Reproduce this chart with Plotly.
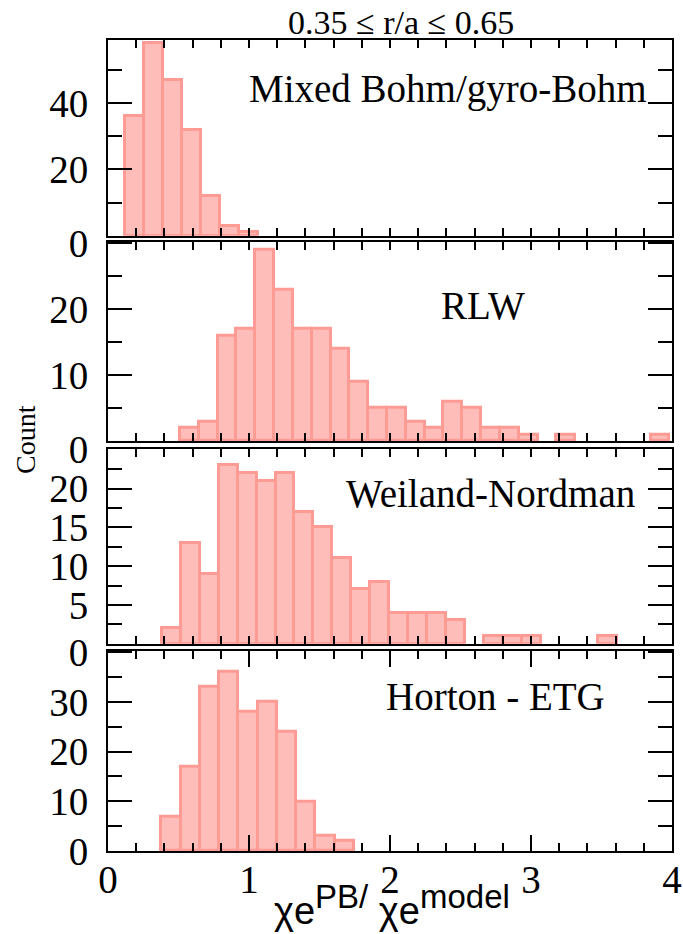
import plotly.graph_objects as go
from plotly.subplots import make_subplots

# ---------------- data ----------------
panel_names = ["Mixed Bohm/gyro-Bohm", "RLW", "Weiland-Nordman", "Horton - ETG"]

counts_bohm = [36, 58, 47, 32, 12, 3, 1]
counts_rlw = [2, 3, 16, 17, 29, 23, 17, 17, 14, 9, 5, 5, 3, 2, 6, 5, 2, 2, 1, 0, 1, 0, 0, 0, 0, 1]
counts_weiland = [2, 13, 9, 23, 22, 21, 22, 17, 15, 11, 7, 8, 4, 4, 4, 3, 0, 1, 1, 1, 0, 0, 0, 1]
counts_horton = [7, 17, 33, 36, 28, 30, 24, 10, 3, 2]

bin_starts = [0.117, 0.51, 0.381, 0.379]
bin_widths = [0.135, 0.1335, 0.1345, 0.1364]

y_max = [59, 30.2, 25.1, 40.3]
y_tickvals = [[0, 20, 40], [0, 10, 20, 30], [0, 5, 10, 15, 20, 25], [0, 10, 20, 30, 40]]
y_ticktext = [["", "20", "40"], ["", "10", "20", "0"], ["", "5", "10", "15", "20", "0"],
              ["0", "10", "20", "30", "0"]]
y_minor = [10, 5, 2.5, 5]

x_tickvals = [0, 1, 2, 3, 4]
x_ticktext = ["0", "1", "2", "3", "4"]

title_text = "0.35 ≤ r/a ≤ 0.65"
y_title = "Count"
x_title = ("χe<sup><span style='font-size:33px'>PB/</span></sup> "
           "χe<sup><span style='font-size:33px'>model</span></sup>")

all_counts = [counts_bohm, counts_rlw, counts_weiland, counts_horton]

# ---------------- figure ----------------
W, H = 683, 934
L, R, T, B = 108, 11, 40, 83
PW, PH = W - L - R, H - T - B
bottom_px = H - B

def xp(px):
    return (px - L) / PW

def yp(py):
    return (bottom_px - py) / PH

# panel pixel extents (top, bottom)
panel_px = [(40, 235.7), (241.7, 441), (449, 643.7), (650.7, 851)]

fig = make_subplots(rows=4, cols=1)

FILL = "#FFBDBA"
EDGE = "#FF9B95"
SERIF = "Liberation Serif, Times New Roman, serif"
SANS = "Liberation Sans, Arial, sans-serif"

for i, counts in enumerate(all_counts):
    centers, heights = [], []
    for k, c in enumerate(counts):
        if c > 0:
            centers.append(bin_starts[i] + (k + 0.5) * bin_widths[i])
            heights.append(c)
    fig.add_trace(go.Bar(x=centers, y=heights, width=bin_widths[i],
                         marker=dict(color=FILL, line=dict(color=EDGE, width=3)),
                         showlegend=False, hoverinfo="skip"),
                  row=i + 1, col=1)

for i in range(4):
    top, bot = panel_px[i]
    n = "" if i == 0 else str(i + 1)
    fig.layout["xaxis" + n].update(
        domain=[0, 1], range=[0, 4], automargin=False,
        showline=True, linecolor="black", linewidth=2, mirror="allticks",
        ticks="inside", ticklen=16, tickwidth=2, tickcolor="black",
        tickmode="array", tickvals=x_tickvals,
        ticktext=x_ticktext if i == 3 else [""] * 5,
        showticklabels=(i == 3),
        tickfont=dict(family=SERIF, size=39, color="black"),
        ticklabelstandoff=-7,
        minor=dict(dtick=0.2, tick0=0, ticks="inside", ticklen=8, tickwidth=2, tickcolor="black"),
        showgrid=False, zeroline=False,
    )
    fig.layout["yaxis" + n].update(
        domain=[yp(bot), yp(top)], range=[0, y_max[i]], automargin=False,
        showline=True, linecolor="black", linewidth=2, mirror="allticks",
        ticks="inside", ticklen=24, tickwidth=2, tickcolor="black",
        tickmode="array", tickvals=y_tickvals[i], ticktext=y_ticktext[i],
        tickfont=dict(family=SERIF, size=39, color="black"),
        ticklabelstandoff=10,
        minor=dict(dtick=y_minor[i], tick0=0, ticks="inside", ticklen=14, tickwidth=2, tickcolor="black"),
        showgrid=False, zeroline=False,
    )

label_pos = [(448, 88.5), (483, 305), (490, 493), (495, 696)]
annotations = []
for name, (px, py) in zip(panel_names, label_pos):
    annotations.append(dict(text=name, x=xp(px), y=yp(py), xref="paper", yref="paper",
                            xanchor="center", yanchor="middle", showarrow=False,
                            font=dict(family=SERIF, size=39, color="black")))
annotations.append(dict(text=title_text, x=xp(401), y=yp(22.5), xref="paper", yref="paper",
                        xanchor="center", yanchor="middle", showarrow=False,
                        font=dict(family=SERIF, size=34, color="black")))
annotations.append(dict(text=y_title, x=xp(25), y=yp(440), xref="paper", yref="paper",
                        xanchor="center", yanchor="middle", showarrow=False, textangle=-90,
                        font=dict(family=SERIF, size=28, color="black")))
annotations.append(dict(text=x_title, x=xp(392), y=yp(934), xref="paper", yref="paper",
                        xanchor="center", yanchor="bottom", showarrow=False,
                        font=dict(family=SANS, size=38, color="black")))

fig.update_layout(
    width=W, height=H, autosize=False,
    margin=dict(l=L, r=R, t=T, b=B),
    paper_bgcolor="white", plot_bgcolor="white",
    bargap=0, annotations=annotations,
)

fig.write_html("out.html")
